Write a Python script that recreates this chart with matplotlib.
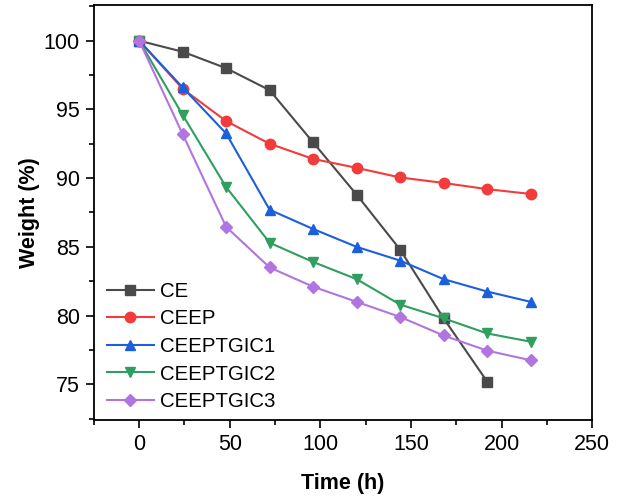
import matplotlib
matplotlib.use("Agg")
import matplotlib.pyplot as plt
from matplotlib.ticker import MultipleLocator

plt.rcParams['font.family'] = ['Liberation Sans', 'DejaVu Sans']

time_h = [0, 24, 48, 72, 96, 120, 144, 168, 192, 216]
ce = [100, 99.2, 98.0, 96.4, 92.6, 88.8, 84.8, 79.8, 75.2]
ceep = [100, 96.5, 94.15, 92.5, 91.4, 90.75, 90.05, 89.65, 89.2, 88.85]
ceeptgic1 = [100, 96.6, 93.25, 87.7, 86.3, 85.0, 84.0, 82.65, 81.75, 81.0]
ceeptgic2 = [100, 94.6, 89.35, 85.3, 83.9, 82.65, 80.8, 79.8, 78.7, 78.1]
ceeptgic3 = [100, 93.2, 86.45, 83.5, 82.1, 81.0, 79.9, 78.55, 77.45, 76.75]

labels = ['CE', 'CEEP', 'CEEPTGIC1', 'CEEPTGIC2', 'CEEPTGIC3']
colors = ['#4a4a4a', '#f23b3b', '#1c5fdc', '#2f9e5f', '#b274e0']
markers = ['s', 'o', '^', 'v', 'D']
series = [ce, ceep, ceeptgic1, ceeptgic2, ceeptgic3]

fig = plt.figure(figsize=(6.3, 5.0), dpi=100)
ax = fig.add_axes([0.149, 0.16, 0.791, 0.83])

for y, lab, c, m in zip(series, labels, colors, markers):
    ms = 6.5 if m == 'D' else 7.5
    ax.plot(time_h[:len(y)], y, color=c, marker=m, markersize=ms, lw=1.5, label=lab)

ax.set_xlim(-25, 250)
ax.set_ylim(72.4, 102.6)
ax.xaxis.set_major_locator(MultipleLocator(50))
ax.xaxis.set_minor_locator(MultipleLocator(25))
ax.yaxis.set_major_locator(MultipleLocator(5))
ax.yaxis.set_minor_locator(MultipleLocator(2.5))
ax.tick_params(which='both', direction='out', top=False, right=False, labelsize=15.5, width=1.2)
ax.tick_params(which='major', length=6, pad=4)
ax.tick_params(which='minor', length=3.5)
for s in ax.spines.values():
    s.set_linewidth(1.3)

ax.set_xlabel('Time (h)', fontsize=15.5, fontweight='bold', labelpad=13)
ax.set_ylabel('Weight (%)', fontsize=15.5, fontweight='bold', labelpad=3)

ax.legend(loc='upper left', bbox_to_anchor=(0.026, 0.333), frameon=False, fontsize=14.7,
          borderpad=0, borderaxespad=0, handlelength=2.3, handletextpad=0.3, labelspacing=0.42)

fig.savefig('out.png', dpi=100)
